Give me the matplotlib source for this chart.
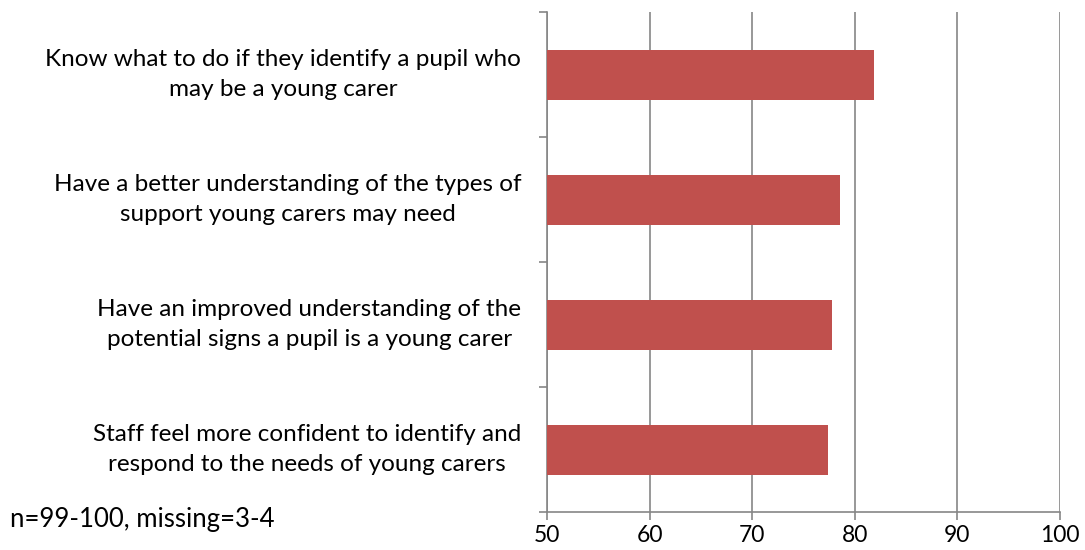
import numpy as np
import matplotlib
matplotlib.use('Agg')
import matplotlib.pyplot as plt

# ─── DATA ───
labels = [
    'Know what to do if they identify a pupil who\nmay be a young carer',
    'Have a better understanding of the types of\nsupport young carers may need',
    'Have an improved understanding of the\npotential signs a pupil is a young carer',
    'Staff feel more confident to identify and\nrespond to the needs of young carers',
]
values = [81.9, 78.6, 77.8, 77.4]
x_ticks = [50, 60, 70, 80, 90, 100]
note = 'n=99-100, missing=3-4'

BAR_COL  = '#C0504D'
AXIS_COL = '#868686'
FS = 17.5

plt.rcParams['font.family'] = ['Lato', 'DejaVu Sans']

fig = plt.figure(figsize=(10.85, 5.5), dpi=100)
ax = fig.add_axes([547 / 1085, 1 - 512 / 550, (1060 - 547) / 1085, (512 - 12) / 550])

n = len(labels)
ypos = np.arange(n)[::-1]
ax.barh(ypos, values, height=0.4, left=0, color=BAR_COL, zorder=3)

ax.set_xlim(50, 100)
ax.set_ylim(-0.5, n - 0.5)
ax.set_xticks(x_ticks)
ax.set_xticklabels([str(v) for v in x_ticks], fontsize=16.5)
ax.tick_params(axis='x', length=6, width=1.2, color=AXIS_COL, pad=3, labelcolor='black')

# category ticks sit between the bars
ax.set_yticks(np.arange(-0.5, n, 1.0))
ax.set_yticklabels([])
ax.tick_params(axis='y', length=6, width=1.2, color=AXIS_COL)

ax.grid(axis='x', color=AXIS_COL, lw=1.2, zorder=0)
for s in ['top', 'right']:
    ax.spines[s].set_visible(False)
for s in ['left', 'bottom']:
    ax.spines[s].set_color(AXIS_COL)
    ax.spines[s].set_linewidth(1.2)

for y, lab in zip(ypos, labels):
    ax.text(-0.05, y, lab, transform=ax.get_yaxis_transform(), ha='right', va='center',
            multialignment='center', fontsize=FS, linespacing=1.55, color='black')

fig.text(10 / 1085, 1 - 520 / 550, note, ha='left', va='center', fontsize=18.5)

fig.savefig('out.png', dpi=100, facecolor='white')
